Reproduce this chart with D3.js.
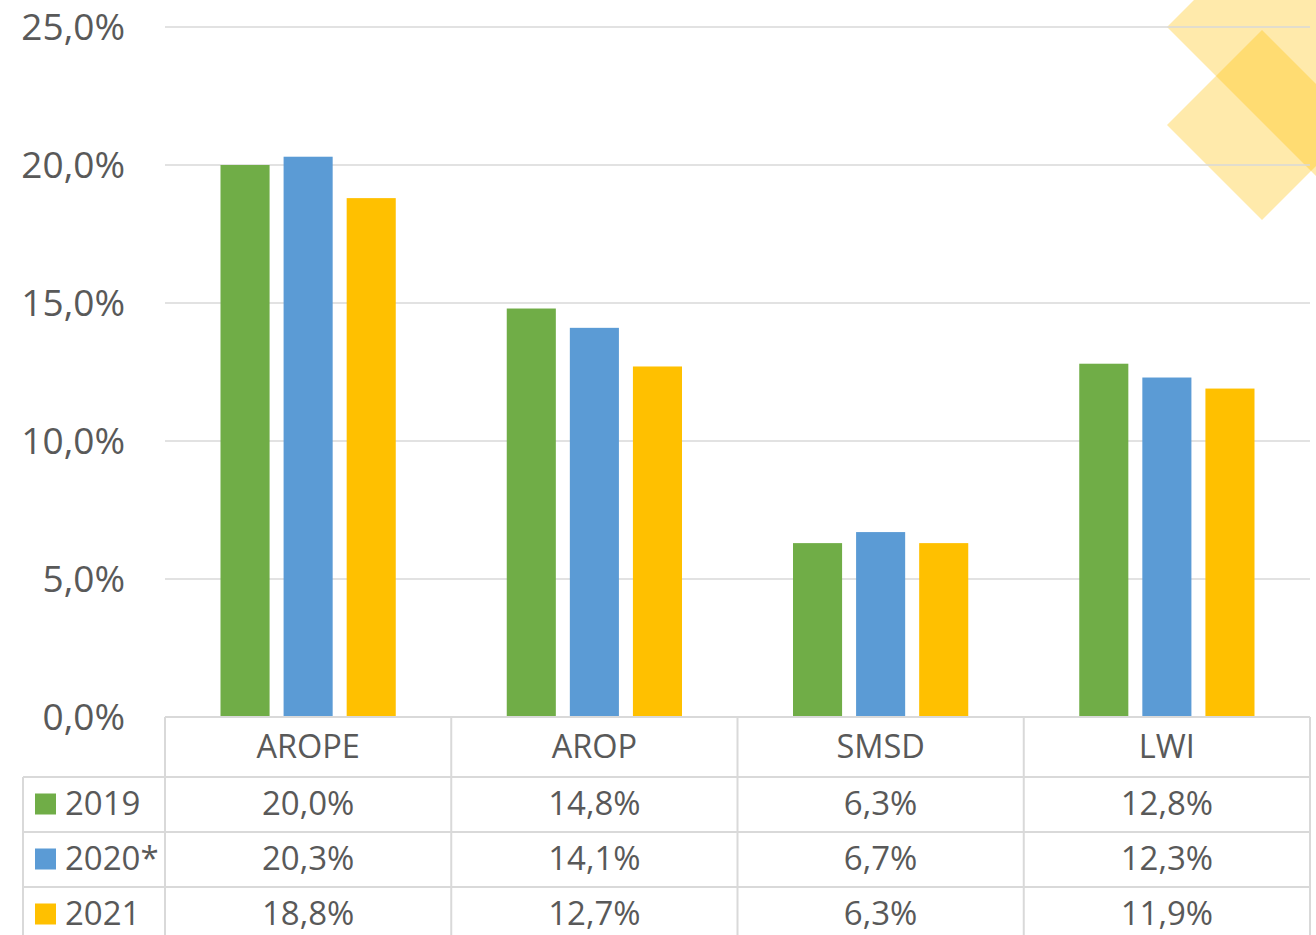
<!DOCTYPE html>
<html><head><meta charset="utf-8">
<script src="https://cdn.jsdelivr.net/npm/d3@7"></script>
<style>html,body{margin:0;padding:0;background:#fff;}svg{display:block;}</style>
</head><body>
<svg id="c" width="1316" height="935"></svg>
<script>
const categories = ["AROPE", "AROP", "SMSD", "LWI"];
const series = ["2019", "2020*", "2021"];
const values2019 = [20.0, 14.8, 6.3, 12.8];
const values2020 = [20.3, 14.1, 6.7, 12.3];
const values2021 = [18.8, 12.7, 6.3, 11.9];
const yTicks = [0, 5, 10, 15, 20, 25];
const colors = ["#70AD47", "#5B9BD5", "#FFC000"];
const allValues = [values2019, values2020, values2021];

(function () {
const svg = d3.select("#c");
const fmt = v => v.toFixed(1).replace(".", ",") + "%";
const textColor = "#595959";
const gridColor = "#D9D9D9";
const fontFam = "'Open Sans', 'Noto Sans', sans-serif";

const pLeft = 165, pRight = 1310, pTop = 27, pBottom = 717;
const x = d3.scaleBand().domain(categories).range([pLeft, pRight]).padding(0);
const y = d3.scaleLinear().domain([0, 25]).range([pBottom, pTop]);
const bw = x.bandwidth();
const xs = d3.scaleBand().domain(series).range([55.5, bw - 55.5]).paddingInner(0.222).paddingOuter(0);

// decorative diamonds
const deco = svg.append("g");
const diamond = (cx, cy, h) => `M${cx-h},${cy}L${cx},${cy-h}L${cx+h},${cy}L${cx},${cy+h}Z`;
deco.append("path").attr("d", diamond(1357, 27, 190)).attr("fill", "#FFC000").attr("fill-opacity", 0.33);
deco.append("path").attr("d", diamond(1262, 125, 95)).attr("fill", "#FFC000").attr("fill-opacity", 0.33);

// gridlines
svg.append("g").selectAll("line").data(yTicks.filter(t => t > 0)).join("line")
  .attr("x1", pLeft).attr("x2", pRight)
  .attr("y1", d => y(d)).attr("y2", d => y(d))
  .attr("stroke", gridColor).attr("stroke-width", 1.5);

// y labels
svg.append("g").selectAll("text").data(yTicks).join("text")
  .attr("x", 125).attr("y", d => y(d)).attr("dy", "0.36em")
  .attr("text-anchor", "end").attr("fill", textColor)
  .style("font-family", fontFam).style("font-size", "37px")
  .text(d => fmt(d));

// bars
series.forEach((s, si) => {
  svg.append("g").selectAll("rect").data(categories).join("rect")
    .attr("x", c => x(c) + xs(s))
    .attr("width", xs.bandwidth())
    .attr("y", (c, i) => y(allValues[si][i]))
    .attr("height", (c, i) => y(0) - y(allValues[si][i]))
    .attr("fill", colors[si]);
});

// table
const rowTop = pBottom, catRowH = 60, rowH = 55;
const tbl = svg.append("g").attr("stroke", gridColor).attr("stroke-width", 2);
tbl.append("line").attr("x1", pLeft).attr("x2", pRight).attr("y1", rowTop).attr("y2", rowTop);
[0, 1, 2].forEach(i => {
  const yy = rowTop + catRowH + i * rowH;
  tbl.append("line").attr("x1", 23).attr("x2", pRight).attr("y1", yy).attr("y2", yy);
});
categories.concat(["_end"]).forEach(c => {
  const xx = c === "_end" ? pRight : x(c);
  tbl.append("line").attr("x1", xx).attr("x2", xx).attr("y1", rowTop).attr("y2", 935);
});
tbl.append("line").attr("x1", 23).attr("x2", 23).attr("y1", rowTop + catRowH).attr("y2", 935);

// category labels
svg.append("g").selectAll("text").data(categories).join("text")
  .attr("x", c => x(c) + bw / 2).attr("y", rowTop + catRowH / 2 - 1).attr("dy", "0.36em")
  .attr("text-anchor", "middle").attr("fill", textColor)
  .style("font-family", fontFam).style("font-size", "32.5px")
  .text(c => c);

// rows
series.forEach((s, si) => {
  const cy = rowTop + catRowH + si * rowH + rowH / 2 - 1;
  const g = svg.append("g");
  g.append("rect").attr("x", 35).attr("y", cy - 10).attr("width", 21).attr("height", 21).attr("fill", colors[si]);
  g.append("text").attr("x", 65).attr("y", cy).attr("dy", "0.36em")
    .attr("fill", textColor).style("font-family", fontFam).style("font-size", "33px").text(s);
  g.selectAll("text.v").data(categories).join("text").attr("class", "v")
    .attr("x", c => x(c) + bw / 2).attr("y", cy).attr("dy", "0.36em")
    .attr("text-anchor", "middle").attr("fill", textColor)
    .style("font-family", fontFam).style("font-size", "33px")
    .text((c, i) => fmt(allValues[si][i]));
});
})();
</script>
</body></html>
